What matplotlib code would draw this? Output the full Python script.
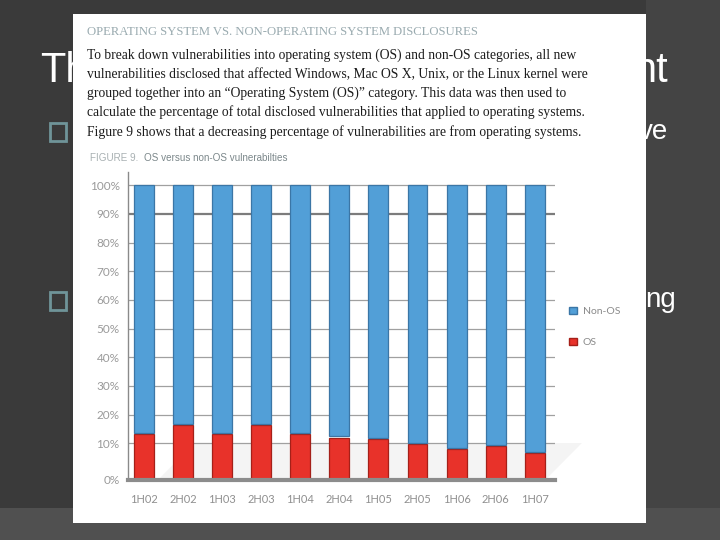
import matplotlib
matplotlib.use("Agg")
import matplotlib.pyplot as plt
from matplotlib.patches import Rectangle, Polygon, Patch

# Chart data (percent of disclosed vulnerabilities)
periods = ['1H02', '2H02', '1H03', '2H03', '1H04', '2H04',
           '1H05', '2H05', '1H06', '2H06', '1H07']
os_share = [13.1, 16.4, 13.1, 16.4, 13.1, 12.0, 11.4, 9.8, 8.1, 8.9, 6.7]
non_os_share = [100 - v for v in os_share]

header = "OPERATING SYSTEM VS. NON-OPERATING SYSTEM DISCLOSURES"
body_lines = [
    "To break down vulnerabilities into operating system (OS) and non-OS categories, all new",
    "vulnerabilities disclosed that affected Windows, Mac OS X, Unix, or the Linux kernel were",
    "grouped together into an \u201cOperating System (OS)\u201d category. This data was then used to",
    "calculate the percentage of total disclosed vulnerabilities that applied to operating systems.",
    "Figure 9 shows that a decreasing percentage of vulnerabilities are from operating systems.",
]
caption_a = "FIGURE 9."
caption_b = "OS versus non-OS vulnerabilties"

W, H = 720, 540
BLUE, RED = '#529fd7', '#e8322a'
FLOOR = -2.8  # the 3D floor sits a little below 0%


def fx(x):
    return x / W


def fy(y):
    return 1 - y / H


fig = plt.figure(figsize=(7.2, 5.4), dpi=100, facecolor='#3a3a3a')

# slide background pieces
fig.add_artist(Rectangle((fx(646), 0), 1 - fx(646), 1, transform=fig.transFigure,
                         facecolor='#444444', edgecolor='none', zorder=0.1))
fig.add_artist(Rectangle((0, 0), 1, fy(508), transform=fig.transFigure,
                         facecolor='#505050', edgecolor='none', zorder=0.1))

# slide text fragments (mostly hidden by the picture)
slide_font = ['Liberation Sans', 'DejaVu Sans']
fig.text(fx(40), fy(82), "Th", color='white', fontsize=30, family=slide_font,
         va='baseline', zorder=0.2)
fig.text(fx(668), fy(82), "nt", color='white', fontsize=30, family=slide_font,
         va='baseline', ha='right', zorder=0.2)
fig.text(fx(668), fy(139), "ve", color='white', fontsize=20, family=slide_font,
         va='baseline', ha='right', zorder=0.2)
fig.text(fx(676), fy(307), "ng", color='white', fontsize=20, family=slide_font,
         va='baseline', ha='right', zorder=0.2)
for ytop in (123, 292):
    fig.add_artist(Rectangle((fx(50), fy(ytop + 18)), 16 / W, 18 / H,
                             transform=fig.transFigure, facecolor='none',
                             edgecolor='#6f9499', linewidth=2, zorder=0.2))

# white picture panel
fig.add_artist(Rectangle((fx(73), fy(523)), (646 - 73) / W, (523 - 14) / H,
                         transform=fig.transFigure, facecolor='white',
                         edgecolor='none', zorder=0.5))

fig.canvas.draw()
renderer = fig.canvas.get_renderer()


def fit(t, width_px):
    w = t.get_window_extent(renderer).width
    t.set_fontsize(t.get_fontsize() * width_px / w)


t_head = fig.text(fx(87), fy(32), header, color='#9aabb0', fontsize=10,
                  family=['Liberation Serif', 'DejaVu Serif'], va='center', zorder=2)
fit(t_head, 391)

body = []
for i, line in enumerate(body_lines):
    t = fig.text(fx(87), fy(55 + i * 19.2), line, color='#1c1c1c', fontsize=10,
                 family=['Liberation Serif', 'DejaVu Serif'], va='center', zorder=2)
    body.append(t)
fit(body[3], 496)
for t in body:
    t.set_fontsize(body[3].get_fontsize())

cap_font = ['Liberation Sans Narrow', 'Liberation Sans', 'DejaVu Sans']
t_ca = fig.text(fx(90), fy(158), caption_a, color='#a8b0b2', fontsize=8,
                family=cap_font, va='center', zorder=2)
t_cb = fig.text(fx(90), fy(158), caption_b, color='#7b878a', fontsize=8,
                family=cap_font, va='center', zorder=2)
wa = t_ca.get_window_extent(renderer).width
wb = t_cb.get_window_extent(renderer).width
scale = 192 / (wa + wb)
t_ca.set_fontsize(8 * scale)
t_cb.set_fontsize(8 * scale)
t_cb.set_x(fx(90 + wa * scale + 6))

# chart
ax = fig.add_axes([fx(128), fy(480), (555 - 128) / W, (480 - 172) / H])
ax.set_zorder(2)
ax.patch.set_visible(False)

x = range(len(periods))
ax.bar(x, [v - FLOOR for v in os_share], bottom=FLOOR, width=0.51,
       color=RED, edgecolor='#a52019', linewidth=0.9, zorder=3, label='OS')
ax.bar(x, [v - 0.4 for v in non_os_share], bottom=[v + 0.4 for v in os_share],
       width=0.51, color=BLUE, edgecolor='#3b76a6', linewidth=0.9, zorder=3,
       label='Non-OS')

for g in range(10, 101, 10):
    if g == 90:
        ax.axhline(g, color='#7c7c7c', linewidth=1.6, zorder=1)
    else:
        ax.axhline(g, color='#a0a0a0', linewidth=0.9, zorder=1)

# light floor shading behind the bars
ax.add_patch(Polygon([(0.07, 0), (0.977, 0), (1.063, 0.12), (0.156, 0.12)],
                     closed=True, transform=ax.transAxes, facecolor='#f4f4f4',
                     edgecolor='none', clip_on=False, zorder=0.5))

ax.set_xlim(-0.41, 10.52)
ax.set_ylim(FLOOR, 104.6)
ax.set_yticks([FLOOR] + list(range(10, 101, 10)))
ax.set_yticklabels(['0%'] + [f'{g}%' for g in range(10, 101, 10)])
ax.set_xticks(list(x))
ax.set_xticklabels(periods)
ax.tick_params(axis='y', length=0, pad=6, labelsize=8.5, labelcolor='#9a9a9a')
ax.tick_params(axis='x', length=0, pad=10, labelsize=8, labelcolor='#8f8f8f')
for lab in ax.get_xticklabels() + ax.get_yticklabels():
    lab.set_family(['Lato', 'DejaVu Sans'])

for side in ('top', 'right'):
    ax.spines[side].set_visible(False)
ax.spines['left'].set_color('#8a8a8a')
ax.spines['left'].set_linewidth(1)
ax.spines['bottom'].set_color('#8c8c8c')
ax.spines['bottom'].set_linewidth(3)
ax.spines['bottom'].set_zorder(4)

handles = [Patch(facecolor=BLUE, edgecolor='#3b76a6', label='Non-OS'),
           Patch(facecolor=RED, edgecolor='#a52019', label='OS')]
leg = fig.legend(handles=handles, loc='center left',
                 bbox_to_anchor=(fx(560), fy(327)), frameon=False,
                 handlelength=0.7, handleheight=0.7, labelspacing=2.1,
                 handletextpad=0.6, labelcolor='#8a8a8a',
                 prop={'family': ['Lato', 'DejaVu Sans'], 'size': 7.5})
leg.set_zorder(3)

fig.savefig('out.png', dpi=100, facecolor=fig.get_facecolor())
